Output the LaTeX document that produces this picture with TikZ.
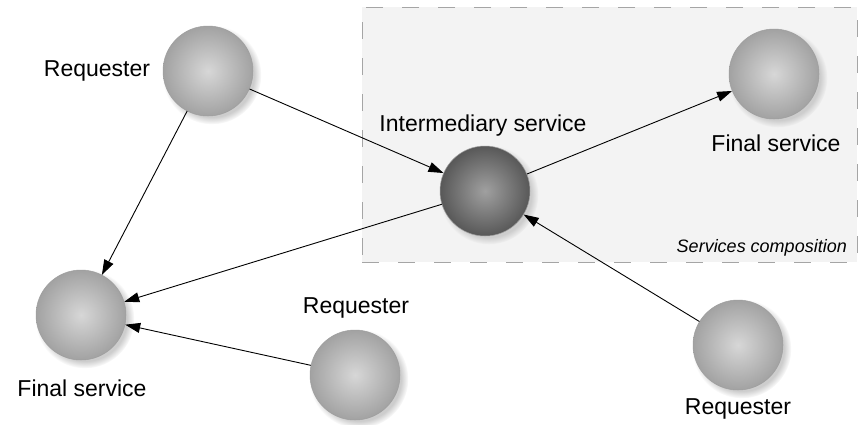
\documentclass[tikz,border=0pt]{standalone}
\usepackage{fontspec}
\setmainfont{Liberation Sans}
\usetikzlibrary{arrows.meta,shadows}
\definecolor{boxfill}{RGB}{243,243,243}
\definecolor{boxline}{RGB}{165,165,165}
\definecolor{lightin}{RGB}{215,215,215}
\definecolor{lightout}{RGB}{162,162,162}
\definecolor{darkin}{RGB}{160,160,160}
\definecolor{darkout}{RGB}{88,88,88}
\definecolor{shadowc}{RGB}{205,205,205}
\tikzset{
  sphere/.style={circle, minimum size=90pt, inner sep=0pt, draw=black!38, line width=0.5pt,
    circular drop shadow={shadow xshift=3.5pt, shadow yshift=-3.5pt, fill=shadowc, opacity=1}},
  lightball/.style={sphere, inner color=lightin, outer color=lightout},
  darkball/.style={sphere, inner color=darkin, outer color=darkout},
  lbl/.style={font=\fontsize{23}{26}\selectfont, inner sep=0pt},
  conn/.style={line width=0.9pt, -{Triangle[length=15pt,width=10pt]}},
  compbox/.style={fill=boxfill, draw=boxline, line width=0.9pt, dash pattern=on 17pt off 19pt}
}
\begin{document}
\begin{tikzpicture}[x=1pt,y=-1pt]
\useasboundingbox (0,0) rectangle (861,424);
\node[compbox, minimum width=495pt, minimum height=255pt, inner sep=0pt] (box) at (609.5,134.5) {};
\node[font=\itshape\fontsize{18}{20}\selectfont, anchor=east, inner sep=0pt] (comp) at (847,248) {Services composition};

\node[lightball] (req1) at (208,71) {};
\node[darkball] (inter) at (485,191) {};
\node[lightball] (fin1) at (774,74) {};
\node[lightball] (fin2) at (81,315) {};
\node[lightball] (req2) at (355,375) {};
\node[lightball] (req3) at (738,345) {};

\node[lbl] (lreq1) at (97,71) {Requester};
\node[lbl] (linter) at (483,126) {Intermediary service};
\node[lbl] (lfin1) at (776,143) {Final service};
\node[lbl] (lfin2) at (82,388) {Final service};
\node[lbl] (lreq2) at (356,308) {Requester};
\node[lbl] (lreq3) at (738,409) {Requester};

\draw[conn] (req1) -- (inter);
\draw[conn] (req1) -- (fin2);
\draw[conn] (inter) -- (fin1);
\draw[conn] (inter) -- (fin2);
\draw[conn] (req2) -- (fin2);
\draw[conn] (req3) -- (inter);
\end{tikzpicture}
\end{document}
